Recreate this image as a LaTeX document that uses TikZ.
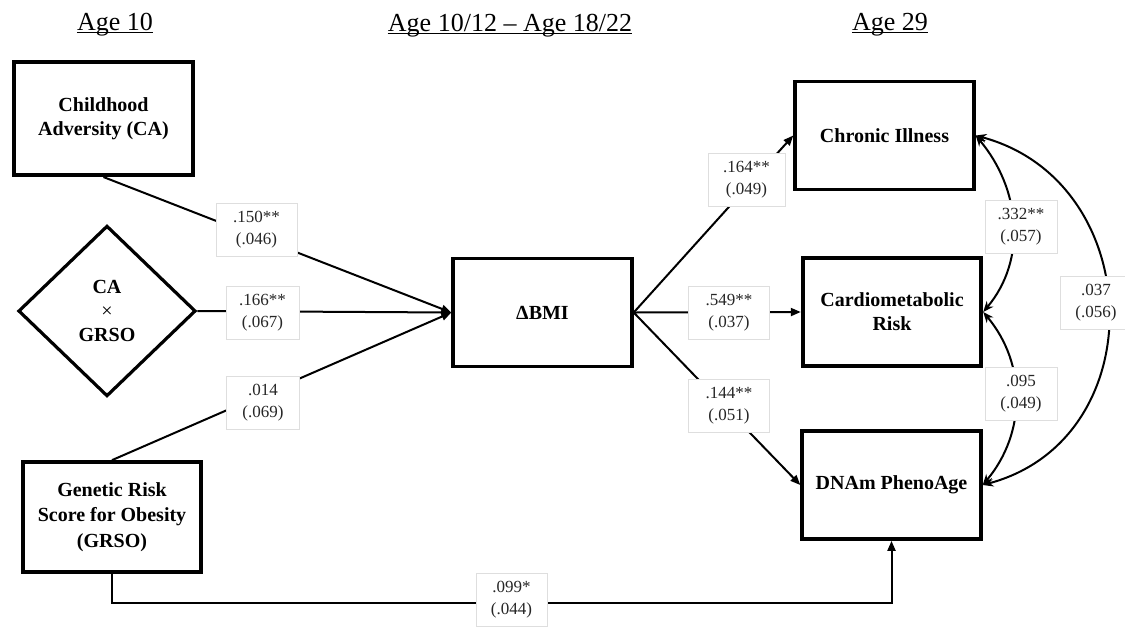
\documentclass[tikz,border=0pt]{standalone}
\usepackage{fontspec}
\setmainfont{Liberation Serif}
\usetikzlibrary{arrows.meta,shapes.geometric,calc}
\begin{document}
\begin{tikzpicture}[x=0.75pt,y=-0.75pt,
  var/.style={draw=black, line width=2.8pt, fill=white, align=center, inner sep=0pt,
    minimum width=134pt, minimum height=81pt,
    font=\fontsize{15}{18}\selectfont\bfseries},
  inter/.style={diamond, draw=black, line width=2.4pt, align=center, inner sep=0pt,
    minimum width=133pt, minimum height=128pt,
    font=\fontsize{15}{18}\selectfont\bfseries},
  lbl/.style={draw=black!13, line width=0.5pt, fill=white, align=center, inner sep=1pt,
    minimum width=#1, minimum height=40pt, text=black!85,
    font=\fontsize{12.75}{16.5}\selectfont},
  lbl/.default=57pt,
  conn/.style={line width=1.5pt, -{Triangle[length=7.5pt,width=6pt]}},
  cov/.style={line width=1.5pt,
    {Stealth[length=8pt,width=6.5pt]}-{Stealth[length=8pt,width=6.5pt]}},
  head/.style={inner sep=0pt, anchor=base, font=\fontsize{19.5}{22}\selectfont},
]
\useasboundingbox (0,0) rectangle (1125,626);

% time headers, underlined
\node[head] (h1) at (115,30) {Age 10};
\node[head] (h2) at (510,31) {Age 10/12 – Age 18/22};
\node[head] (h3) at (890,30) {Age 29};
\foreach \h in {h1,h2,h3}
  \draw[line width=0.9pt] ($(\h.base west)+(0,2.5)$) -- ($(\h.base east)+(0,2.5)$);

% variables
\node[var, minimum height=85pt] (ca) at (103.5,118.5) {Childhood\\Adversity (CA)};
\node[inter] (cax) at (107,311) {CA\\{\mdseries ×}\\GRSO};
\node[var, minimum height=82.5pt, font=\fontsize{15}{19}\selectfont\bfseries]
  (grso) at (112,517) {Genetic Risk\\Score for Obesity\\(GRSO)};
\node[var] (bmi) at (542.5,312.5) {ΔBMI};
\node[var] (chronic) at (884.5,135.5) {Chronic Illness};
\node[var] (cardio) at (892,312) {Cardiometabolic\\Risk};
\node[var] (dnam) at (891.5,485) {DNAm PhenoAge};

% regression paths
\draw[conn] (ca.south) -- (bmi.west);
\draw[conn] (cax.east) -- (bmi.west);
\draw[conn] (grso.north) -- (bmi.west);
\draw[conn] (bmi.east) -- (chronic.west);
\draw[conn] (bmi.east) -- (cardio.west);
\draw[conn] (bmi.east) -- (dnam.west);
\coordinate (low) at (511,603);
\draw[conn] (grso.south) |- (low) -| (dnam.south);

% residual covariances
\draw[cov] (chronic.east) to[out=-50,in=50] (cardio.east);
\draw[cov] (cardio.east) to[out=-50,in=50] (dnam.east);
\draw[cov] (chronic.east) to[out=-15,in=15,looseness=1.3] (dnam.east);

% estimates (standard errors)
\node[lbl=61pt] (l1) at (256.5,230) {.150**\\(.046)};
\node[lbl=55pt] (l2) at (262.5,313) {.166**\\(.067)};
\node[lbl=55pt] (l3) at (263,402.5) {.014\\(.069)};
\node[lbl=58pt] (l4) at (746.5,179.5) {.164**\\(.049)};
\node[lbl=61pt] (l5) at (729,312.5) {.549**\\(.037)};
\node[lbl=61pt] (l6) at (729,405.5) {.144**\\(.051)};
\node[lbl=54pt] (l7) at (1021,226.5) {.332**\\(.057)};
\node[lbl=54pt] (l8) at (1021,393.5) {.095\\(.049)};
\node[lbl=54pt] (l9) at (1096,302.5) {.037\\(.056)};
\node[lbl=53pt] (l10) at (511.5,600) {.099*\\(.044)};
\end{tikzpicture}
\end{document}
